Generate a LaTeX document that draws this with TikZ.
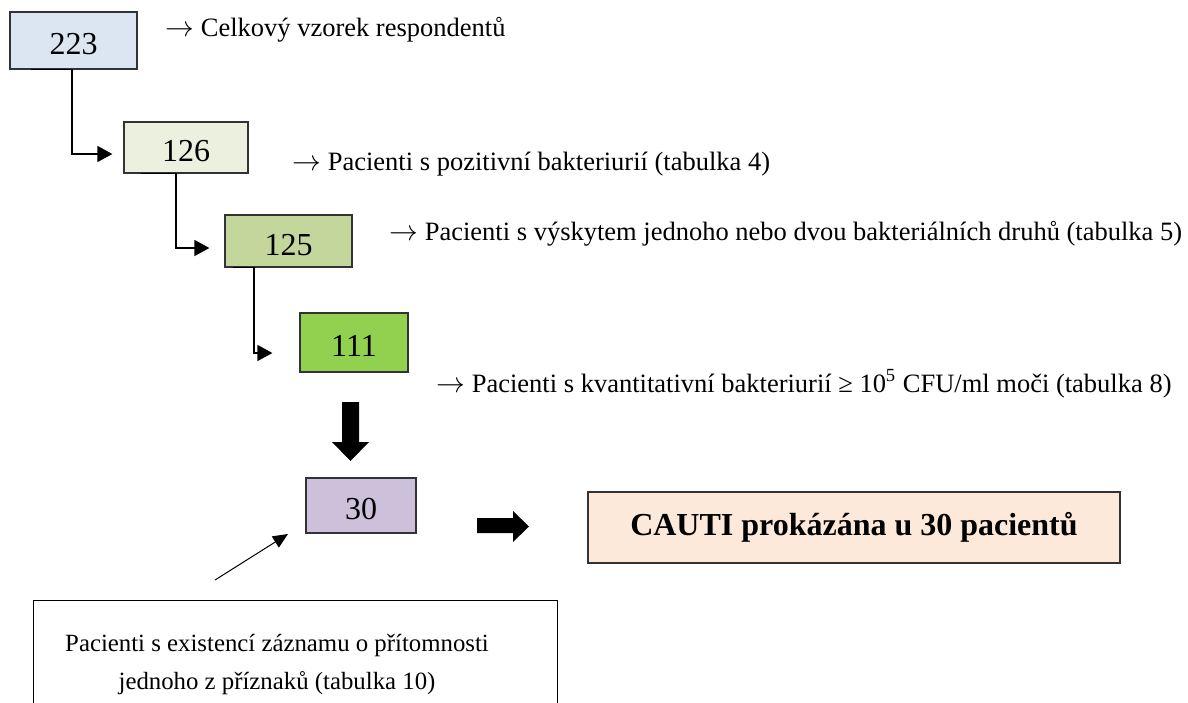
\documentclass[tikz,border=0pt]{standalone}
\usepackage{fontspec}
\setmainfont{Liberation Serif}
\usetikzlibrary{arrows.meta}
\definecolor{boxblue}{RGB}{220,230,242}
\definecolor{boxolive}{RGB}{235,241,222}
\definecolor{boxgreen}{RGB}{195,214,155}
\definecolor{boxlime}{RGB}{146,208,80}
\definecolor{boxlila}{RGB}{204,192,218}
\definecolor{boxpeach}{RGB}{253,233,217}
\begin{document}
\begin{tikzpicture}[x=0.5pt, y=-0.5pt, every node/.style={font=\fontsize{13.25}{15}\selectfont},
	num/.style={draw=black!80, line width=.6pt, inner sep=0pt, text height=14pt, text depth=0pt, font=\fontsize{16}{18}\selectfont},
	lbl/.style={anchor=base west, inner sep=0pt},
	elbow/.style={-{Triangle[length=7.5pt,width=8pt]}, line width=.01in}]
	\useasboundingbox (0,0) rectangle (1188,702);
	\clip (0,0) rectangle (1188,702);
	
	\node[num, fill=boxblue, minimum width=63.5pt, minimum height=28.5pt] (all) at (73.5,40.5) {223};
	\node[num, fill=boxolive, minimum width=62pt, minimum height=25.5pt] (pos) at (186,147.5) {126};
	\node[num, fill=boxgreen, minimum width=63.5pt, minimum height=26pt] (druhy) at (288.5,241) {125};
	\node[num, fill=boxlime, minimum width=54pt, minimum height=29.5pt] (kvant) at (354,342.5) {111};
	\node[num, fill=boxlila, minimum width=55pt, minimum height=27.5pt] (tri) at (361,505.5) {30};
	\node[draw=black!80, line width=.6pt, fill=boxpeach, minimum width=266pt, minimum height=35.5pt, font=\bfseries\fontsize{16}{18}\selectfont] (cauti) at (854,527.5) {CAUTI prokázána u 30 pacientů};
	
	\node[lbl] (tall) at (165,36) {$\rightarrow$ Celkový vzorek respondentů};
	\node[lbl] (tpos) at (292,170) {$\rightarrow$ Pacienti s pozitivní bakteriurií (tabulka 4)};
	\node[lbl] (tdruhy) at (389,240) {$\rightarrow$ Pacienti s výskytem jednoho nebo dvou bakteriálních druhů (tabulka 5)};
	\node[lbl] (tkvant) at (436,392) {$\rightarrow$ Pacienti s kvantitativní bakteriurií ≥ 10\textsuperscript{5} CFU/ml moči (tabulka 8)};
	
	\node[anchor=north, minimum width=261.5pt, minimum height=64pt, inner sep=0pt] (zaznam) at (295.5,600) {};
	\node[align=center, inner sep=0pt, font=\fontsize{12.4}{19}\selectfont] (tzaznam) at ([xshift=-9.25pt]zaznam.center) {Pacienti s existencí záznamu o přítomnosti\\jednoho z příznaků (tabulka 10)};
	\draw[line width=.5pt] (zaznam.south west) |- (zaznam.north east) -- (zaznam.south east);
	
	\draw[elbow] ([xshift=11pt]all.south west) -- ([xshift=-0.75pt]all.south) |- ([xshift=-5.5pt,yshift=-3.25pt]pos.west);
	\draw[elbow] ([xshift=9pt]pos.south west) -- ([xshift=-5pt]pos.south) |- ([xshift=-7.5pt,yshift=-3.5pt]druhy.west);
	\draw[elbow] ([xshift=4.5pt]druhy.south west) -- ([xshift=-17.25pt]druhy.south) |- ([xshift=-13.5pt,yshift=-5.25pt]kvant.west);
	
	\coordinate (s) at (215,580);
	\coordinate (e) at (288,534);
	\draw[-{Triangle[length=7.5pt,width=6.5pt]}, line width=.5pt] (s) -- (e);
	
	\fill (342,402) -- (359,402) -- (359,442) -- (369,442) -- (350.5,461) -- (332,442) -- (342,442) -- cycle;
	\fill (477,518) -- (513,518) -- (513,511) -- (529,526.5) -- (513,542) -- (513,533) -- (477,533) -- cycle;
\end{tikzpicture}
\end{document}
